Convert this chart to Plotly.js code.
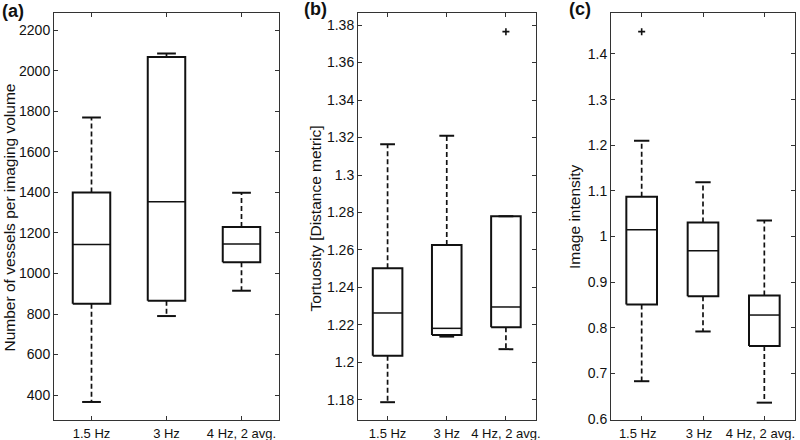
<!DOCTYPE html>
<html>
<head>
<meta charset="utf-8">
<script src="https://cdn.plot.ly/plotly-3.0.1.min.js"></script>
<style>html,body{margin:0;padding:0;background:#fff;}#chart{width:800px;height:440px;}</style>
</head>
<body>
<div id="chart"></div>
<script>
// ---- Data ----
const categories = ['1.5 Hz', '3 Hz', '4 Hz, 2 avg.'];

// (a) Number of vessels per imaging volume
const vesselsLower  = [366, 790, 915];
const vesselsQ1     = [851, 865, 1056];
const vesselsMedian = [1143, 1354, 1146];
const vesselsQ3     = [1400, 2069, 1230];
const vesselsUpper  = [1770, 2086, 1398];
const vesselsOutliers = [null, null, null];
const vesselsTicks = [400, 600, 800, 1000, 1200, 1400, 1600, 1800, 2000, 2200];

// (b) Tortuosity [Distance metric]
const tortLower  = [1.1788, 1.2138, 1.2071];
const tortQ1     = [1.2036, 1.2147, 1.2188];
const tortMedian = [1.2264, 1.2182, 1.2296];
const tortQ3     = [1.2502, 1.2627, 1.278];
const tortUpper  = [1.3164, 1.3209, 1.278];
const tortOutliers = [null, null, 1.3765];
const tortTicks = [1.18, 1.2, 1.22, 1.24, 1.26, 1.28, 1.3, 1.32, 1.34, 1.36, 1.38];

// (c) Image intensity
const intLower  = [0.683, 0.792, 0.636];
const intQ1     = [0.851, 0.869, 0.760];
const intMedian = [1.015, 0.969, 0.828];
const intQ3     = [1.087, 1.031, 0.871];
const intUpper  = [1.21, 1.119, 1.035];
const intOutliers = [1.449, null, null];
const intTicks = [0.6, 0.7, 0.8, 0.9, 1, 1.1, 1.2, 1.3, 1.4];

// ---- Build traces ----
const BOX_HALF = 0.25, CAP_HALF = 0.125;
const INK = '#111111';

function boxTraces(xa, ya, lower, q1, med, q3, upper, outliers) {
  const traces = [];
  const bx = [], by = [], mx = [], my = [], wx = [], wy = [], cx = [], cy = [], ox = [], oy = [];
  for (let i = 0; i < categories.length; i++) {
    const p = i + 1;
    bx.push(p - BOX_HALF, p + BOX_HALF, p + BOX_HALF, p - BOX_HALF, p - BOX_HALF, null);
    by.push(q1[i], q1[i], q3[i], q3[i], q1[i], null);
    mx.push(p - BOX_HALF, p + BOX_HALF, null);
    my.push(med[i], med[i], null);
    wx.push(p, p, null, p, p, null);
    wy.push(q3[i], upper[i], null, q1[i], lower[i], null);
    cx.push(p - CAP_HALF, p + CAP_HALF, null, p - CAP_HALF, p + CAP_HALF, null);
    cy.push(upper[i], upper[i], null, lower[i], lower[i], null);
    if (outliers[i] !== null) { ox.push(p); oy.push(outliers[i]); }
  }
  const common = {xaxis: xa, yaxis: ya, mode: 'lines', hoverinfo: 'skip', showlegend: false};
  traces.push(Object.assign({x: wx, y: wy, line: {color: INK, width: 1.7, dash: '5px,3px'}}, common));
  traces.push(Object.assign({x: bx, y: by, line: {color: INK, width: 2}}, common));
  traces.push(Object.assign({x: mx, y: my, line: {color: INK, width: 1.5}}, common));
  traces.push(Object.assign({x: cx, y: cy, line: {color: INK, width: 2}}, common));
  if (ox.length) {
    traces.push({x: ox, y: oy, xaxis: xa, yaxis: ya, mode: 'markers', showlegend: false, hoverinfo: 'skip',
      marker: {symbol: 'cross-thin', size: 5, color: INK, line: {color: INK, width: 1.6}}});
  }
  return traces;
}

const data = [].concat(
  boxTraces('x', 'y', vesselsLower, vesselsQ1, vesselsMedian, vesselsQ3, vesselsUpper, vesselsOutliers),
  boxTraces('x2', 'y2', tortLower, tortQ1, tortMedian, tortQ3, tortUpper, tortOutliers),
  boxTraces('x3', 'y3', intLower, intQ1, intMedian, intQ3, intUpper, intOutliers)
);

const FAMILY = 'Liberation Sans, Arial, sans-serif';
const xTickFont = {family: FAMILY, size: 13, color: INK};
const yTickFont = {family: FAMILY, size: 14, color: INK};
function xAxis(domain, anchor, shift) {
  return {domain: domain, anchor: anchor, range: [0.5, 3.5], tickmode: 'array',
    tickvals: [1, 2, 3], ticktext: categories, ticks: 'inside', ticklen: 4, tickwidth: 1,
    tickcolor: '#333', showline: true, linecolor: '#333', linewidth: 1, mirror: 'ticks',
    showgrid: false, zeroline: false, tickfont: xTickFont, fixedrange: true,
    ticklabelshift: shift, ticklabelstandoff: 1, ticklabeloverflow: 'allow'};
}
function yAxis(range, ticks, anchor) {
  return {domain: [0.04545, 0.97114], anchor: anchor, range: range, tickmode: 'array',
    tickvals: ticks, ticktext: ticks.map(String), ticks: 'inside', ticklen: 4, tickwidth: 1,
    tickcolor: '#333', showline: true, linecolor: '#333', linewidth: 1, mirror: 'ticks',
    showgrid: false, zeroline: false, tickfont: yTickFont, fixedrange: true};
}

const titleFont = {family: FAMILY, size: 15.5, color: INK};
const labelFont = {family: FAMILY, size: 18, color: INK, weight: 'bold'};

const layout = {
  width: 800, height: 440,
  margin: {l: 0, r: 0, t: 0, b: 0},
  paper_bgcolor: '#ffffff', plot_bgcolor: '#ffffff',
  showlegend: false,
  xaxis: xAxis([54 / 800, 279 / 800], 'y', 0),
  yaxis: yAxis([277, 2287], vesselsTicks, 'x'),
  xaxis2: xAxis([358 / 800, 535.5 / 800], 'y2', 0),
  yaxis2: yAxis([1.1693, 1.3866], tortTicks, 'x2'),
  xaxis3: xAxis([611 / 800, 795 / 800], 'y3', -4),
  yaxis3: yAxis([0.598, 1.4905], intTicks, 'x3'),
  annotations: [
    {text: 'Number of vessels per imaging volume', textangle: -90, xref: 'paper', yref: 'paper',
      x: 9 / 800, y: 1 - 217.5 / 440, xanchor: 'center', yanchor: 'middle', showarrow: false, font: titleFont},
    {text: 'Tortuosity [Distance metric]', textangle: -90, xref: 'paper', yref: 'paper',
      x: 315 / 800, y: 1 - 218.5 / 440, xanchor: 'center', yanchor: 'middle', showarrow: false, font: titleFont},
    {text: 'Image intensity', textangle: -90, xref: 'paper', yref: 'paper',
      x: 574 / 800, y: 1 - 217 / 440, xanchor: 'center', yanchor: 'middle', showarrow: false, font: titleFont},
    {text: '<b>(a)</b>', xref: 'paper', yref: 'paper', x: 0 / 800, y: 1 - 11 / 440,
      xanchor: 'left', yanchor: 'middle', showarrow: false, font: labelFont},
    {text: '<b>(b)</b>', xref: 'paper', yref: 'paper', x: 302 / 800, y: 1 - 9 / 440,
      xanchor: 'left', yanchor: 'middle', showarrow: false, font: labelFont},
    {text: '<b>(c)</b>', xref: 'paper', yref: 'paper', x: 567 / 800, y: 1 - 9 / 440,
      xanchor: 'left', yanchor: 'middle', showarrow: false, font: labelFont}
  ]
};

Plotly.newPlot('chart', data, layout, {displayModeBar: false, staticPlot: true});
</script>
</body>
</html>
